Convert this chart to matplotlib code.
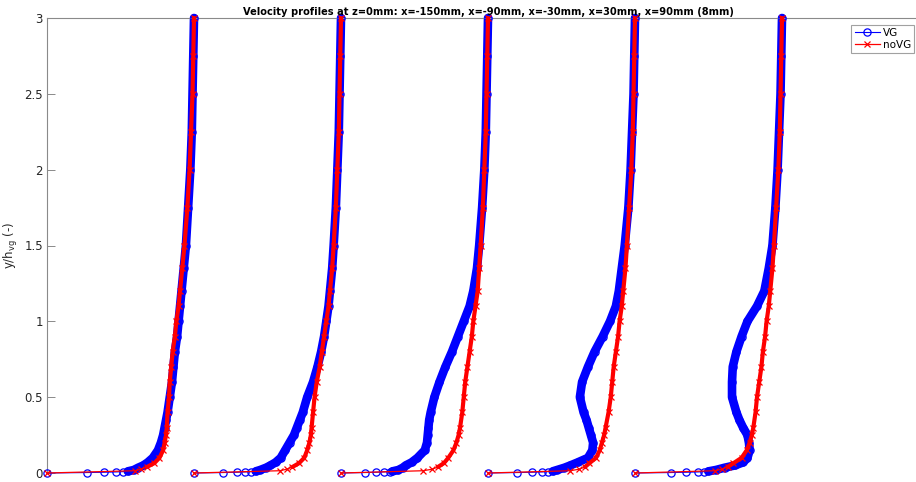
import numpy as np
import matplotlib
matplotlib.use("Agg")
import matplotlib.pyplot as plt

# Data: velocity profiles u/U, one column per station

STATIONS = ["x=-150mm", "x=-90mm", "x=-30mm", "x=30mm", "x=90mm"]

y_vg = [0, 0.003, 0.005, 0.007, 0.009, 0.011, 0.02, 0.035, 0.05, 0.07, 0.1,
        0.15, 0.2, 0.25, 0.3, 0.35, 0.4, 0.5, 0.6, 0.7, 0.8, 0.9, 1.0, 1.1,
        1.2, 1.35, 1.5, 1.75, 2.0, 2.25, 2.5, 2.75, 3.0]

u_vg_150 = [0, 0.27, 0.39, 0.47, 0.52, 0.55, 0.59, 0.62, 0.655, 0.685, 0.72,
            0.755, 0.775, 0.79, 0.80, 0.81, 0.82, 0.835, 0.85, 0.86, 0.87, 0.885,
            0.895, 0.905, 0.915, 0.93, 0.945, 0.96, 0.975, 0.985, 0.99, 0.995, 1.0]
u_vg_90 = [0, 0.20, 0.29, 0.35, 0.39, 0.42, 0.45, 0.49, 0.52, 0.555, 0.59,
           0.62, 0.65, 0.68, 0.70, 0.72, 0.74, 0.77, 0.81, 0.84, 0.865, 0.885,
           0.90, 0.915, 0.925, 0.94, 0.95, 0.965, 0.975, 0.985, 0.99, 0.995, 1.0]
u_vg_30 = [0, 0.16, 0.24, 0.29, 0.33, 0.35, 0.39, 0.42, 0.44, 0.48, 0.52,
           0.57, 0.585, 0.59, 0.595, 0.60, 0.61, 0.635, 0.67, 0.71, 0.755, 0.795,
           0.835, 0.875, 0.90, 0.925, 0.94, 0.96, 0.975, 0.985, 0.99, 0.995, 1.0]
u_vg_p30 = [0, 0.20, 0.30, 0.37, 0.41, 0.44, 0.47, 0.52, 0.56, 0.61, 0.68,
            0.71, 0.715, 0.70, 0.685, 0.67, 0.65, 0.625, 0.64, 0.68, 0.725, 0.78,
            0.83, 0.87, 0.89, 0.91, 0.93, 0.955, 0.97, 0.98, 0.99, 0.995, 1.0]
u_vg_p90 = [0, 0.245, 0.35, 0.43, 0.47, 0.50, 0.55, 0.61, 0.68, 0.735, 0.765,
            0.78, 0.775, 0.765, 0.735, 0.71, 0.69, 0.66, 0.66, 0.665, 0.69, 0.725,
            0.765, 0.83, 0.88, 0.91, 0.935, 0.955, 0.97, 0.98, 0.99, 0.995, 1.0]

y_novg = [0, 0.015, 0.025, 0.04, 0.065, 0.1, 0.15, 0.2, 0.25, 0.3, 0.4, 0.5,
          0.6, 0.7, 0.8, 0.9, 1.0, 1.1, 1.2, 1.35, 1.5, 1.75, 2.0, 2.25, 2.5,
          2.75, 3.0]

u_novg_150 = [0, 0.60, 0.64, 0.68, 0.73, 0.765, 0.79, 0.80, 0.81, 0.815, 0.82,
              0.83, 0.835, 0.845, 0.855, 0.87, 0.88, 0.895, 0.905, 0.92, 0.935,
              0.955, 0.97, 0.98, 0.99, 0.995, 1.0]
u_novg_90 = [0, 0.585, 0.63, 0.67, 0.715, 0.75, 0.77, 0.785, 0.795, 0.80, 0.81,
             0.82, 0.835, 0.855, 0.87, 0.885, 0.90, 0.915, 0.925, 0.94, 0.95,
             0.965, 0.975, 0.985, 0.99, 0.995, 1.0]
u_novg_30 = [0, 0.56, 0.62, 0.66, 0.70, 0.73, 0.765, 0.785, 0.80, 0.81, 0.825,
             0.835, 0.845, 0.86, 0.875, 0.89, 0.90, 0.915, 0.93, 0.94, 0.95,
             0.965, 0.975, 0.985, 0.99, 0.995, 1.0]
u_novg_p30 = [0, 0.56, 0.62, 0.66, 0.69, 0.735, 0.76, 0.775, 0.79, 0.80, 0.82,
              0.835, 0.845, 0.855, 0.87, 0.885, 0.895, 0.91, 0.92, 0.935, 0.945,
              0.96, 0.975, 0.985, 0.99, 0.995, 1.0]
u_novg_p90 = [0, 0.545, 0.59, 0.63, 0.67, 0.725, 0.76, 0.78, 0.795, 0.805, 0.82,
              0.83, 0.845, 0.86, 0.87, 0.885, 0.895, 0.91, 0.92, 0.935, 0.945,
              0.96, 0.975, 0.985, 0.99, 0.995, 1.0]

U_VG = [u_vg_150, u_vg_90, u_vg_30, u_vg_p30, u_vg_p90]
U_NOVG = [u_novg_150, u_novg_90, u_novg_30, u_novg_p30, u_novg_p90]

Y_TICKS = [0, 0.5, 1, 1.5, 2, 2.5, 3]
Y_TICKLABELS = ["0", "0.5", "1", "1.5", "2", "2.5", "3"]

TITLE = ("Velocity profiles at z=0mm: " + ", ".join(STATIONS) + " (8mm)")

# Style
BLUE = "#0000ff"
RED = "#ff0000"
AX_GRAY = "#8a8a8a"
TXT = "#262626"
VG_BAND_START = 5      # first index where the VG markers merge into a band
NOVG_BAND_START = 3


def main():
    fig = plt.figure(figsize=(9.16, 4.82), dpi=100)
    ax = fig.add_axes([47 / 916, 9 / 482, 882 / 916, 455 / 482])

    y_vg_arr = np.array(y_vg)
    y_novg_arr = np.array(y_novg)

    for k, (uv, un) in enumerate(zip(U_VG, U_NOVG)):
        xv = np.array(uv) + k
        xn = np.array(un) + k
        # VG: dense overlapping circles -> thick band
        ax.plot(xv[VG_BAND_START:], y_vg_arr[VG_BAND_START:], color=BLUE,
                lw=6.2, solid_capstyle="round", solid_joinstyle="round",
                zorder=2, clip_on=False)
        ax.plot(xv, y_vg_arr, color=BLUE, lw=0.8, marker="o", ms=5.2,
                mfc="none", mew=0.9, zorder=3, clip_on=False,
                label="VG" if k == 0 else None)
        # noVG: dense crosses -> narrow red band
        ax.plot(xn[NOVG_BAND_START:], y_novg_arr[NOVG_BAND_START:], color=RED,
                lw=3.0, solid_capstyle="round", zorder=4, clip_on=False)
        ax.plot(xn, y_novg_arr, color=RED, lw=0.9, marker="x", ms=4.5,
                mew=0.9, zorder=5, clip_on=False,
                label="noVG" if k == 0 else None)

    ax.set_xlim(0, 6)
    ax.set_ylim(0, 3)
    ax.set_xticks([])
    ax.set_yticks(Y_TICKS)
    ax.set_yticklabels(Y_TICKLABELS)
    ax.tick_params(axis="y", direction="in", length=5.5, width=0.7,
                   colors=AX_GRAY, labelcolor=TXT, labelsize=8.5, pad=3)
    for side in ("bottom", "right"):
        ax.spines[side].set_visible(False)
    for side in ("left", "top"):
        ax.spines[side].set_color(AX_GRAY)
        ax.spines[side].set_linewidth(0.8)

    ax.set_ylabel("y/h$_{\\rm vg}$ (-)", fontsize=8.5, color=TXT, labelpad=3)
    ax.set_title(TITLE, fontsize=7.1, fontweight="bold", color="black", pad=2)

    leg = fig.legend(loc="upper right", bbox_to_anchor=(914 / 916, 1 - 25 / 482),
                     fontsize=7.5, frameon=True, fancybox=False, handlelength=2.4,
                     borderpad=0.3, labelspacing=0.15, handletextpad=0.3,
                     borderaxespad=0)
    leg.get_frame().set_edgecolor(AX_GRAY)
    leg.get_frame().set_linewidth(0.8)

    fig.savefig("out.png", dpi=100)
    plt.close(fig)


if __name__ == "__main__":
    main()
